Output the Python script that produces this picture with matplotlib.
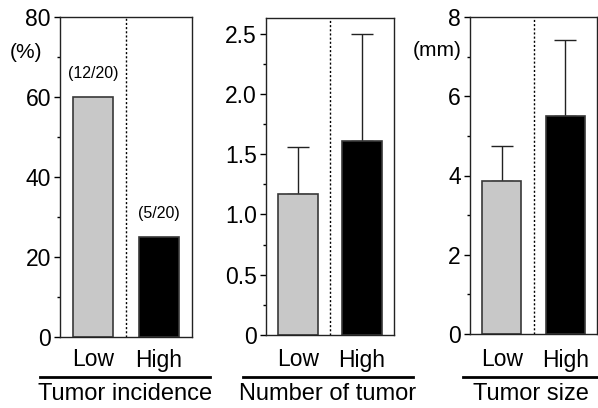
import matplotlib
matplotlib.use("Agg")
import matplotlib.pyplot as plt
from matplotlib.ticker import MultipleLocator, FuncFormatter
from matplotlib.lines import Line2D
from matplotlib.transforms import blended_transform_factory

plt.rcParams["font.family"] = ["Liberation Sans", "DejaVu Sans"]

groups = ["Low", "High"]
incidence = [60, 25]
incidence_txt = ["(12/20)", "(5/20)"]
num_tumor = [1.17, 1.61]
num_tumor_err = [0.39, 0.89]
tumor_size = [3.85, 5.5]
tumor_size_err = [0.9, 1.92]
titles = ["Tumor incidence", "Number of tumor", "Tumor size"]

W, H = 598, 408
fig = plt.figure(figsize=(W / 100, H / 100), dpi=100)


def px_axes(x0, y0, x1, y1):
    return fig.add_axes([x0 / W, 1 - y1 / H, (x1 - x0) / W, (y1 - y0) / H])


COLORS = ["#c8c8c8", "black"]


def panel(ax, vals, err, ylim, major, minor, fmt):
    x = [0, 1]
    ax.bar(x, vals, width=0.62, color=COLORS, edgecolor="#383838", lw=1.2, zorder=2)
    if err is not None:
        ax.errorbar(x, vals, yerr=[[0, 0], err], fmt="none", ecolor="#222222",
                    elinewidth=1.0, capsize=8, capthick=1.0, zorder=1)
    ax.axvline(0.5, color="black", ls=(0, (1.5, 1.5)), lw=1.0)
    ax.set_xlim(-0.5, 1.5)
    ax.set_ylim(*ylim)
    ax.set_xticks([])
    ax.yaxis.set_major_locator(MultipleLocator(major))
    ax.yaxis.set_minor_locator(MultipleLocator(minor))
    ax.yaxis.set_major_formatter(FuncFormatter(fmt))
    ax.tick_params(axis="y", which="major", length=4, width=1, labelsize=16.5, pad=2.5)
    ax.tick_params(axis="y", which="minor", length=2.5, width=1)
    for s in ax.spines.values():
        s.set_linewidth(1.0)
        s.set_color("#222222")


int_fmt = lambda v, p: f"{v:.0f}"
dec_fmt = lambda v, p: "0" if abs(v) < 1e-9 else f"{v:.1f}"

ax1 = px_axes(60, 17, 192, 337)
panel(ax1, incidence, None, (0, 80), 20, 10, int_fmt)
for i, (v, t) in enumerate(zip(incidence, incidence_txt)):
    ax1.annotate(t, (i, v), xytext=(0, 17), textcoords="offset points",
                 ha="center", va="center", fontsize=11.5)

ax2 = px_axes(266, 18, 394, 335)
panel(ax2, num_tumor, num_tumor_err, (0, 2.63), 0.5, 0.25, dec_fmt)

ax3 = px_axes(470, 17, 597, 334)
panel(ax3, tumor_size, tumor_size_err, (0, 8), 2, 1, int_fmt)

fig.text(26 / W, 1 - 52 / H, "(%)", ha="center", va="center", fontsize=15)
fig.text(437 / W, 1 - 50 / H, "(mm)", ha="center", va="center", fontsize=15)

# group labels and underlines below each panel
spans = [(40, 210), (243, 413), (463, 598)]
for ax, (a, b), title in zip([ax1, ax2, ax3], spans, titles):
    tr = blended_transform_factory(ax.transData, fig.transFigure)
    for i, g in enumerate(groups):
        ax.text(i, 1 - 360 / H, g, transform=tr, ha="center", va="center", fontsize=16.5)
    fig.add_artist(Line2D([a / W, b / W], [1 - 377 / H] * 2, color="black", lw=2.0))
    fig.text((a + b) / 2 / W, 1 - 394 / H, title, ha="center", va="center", fontsize=17)

fig.savefig("out.png", dpi=100, facecolor="white")
